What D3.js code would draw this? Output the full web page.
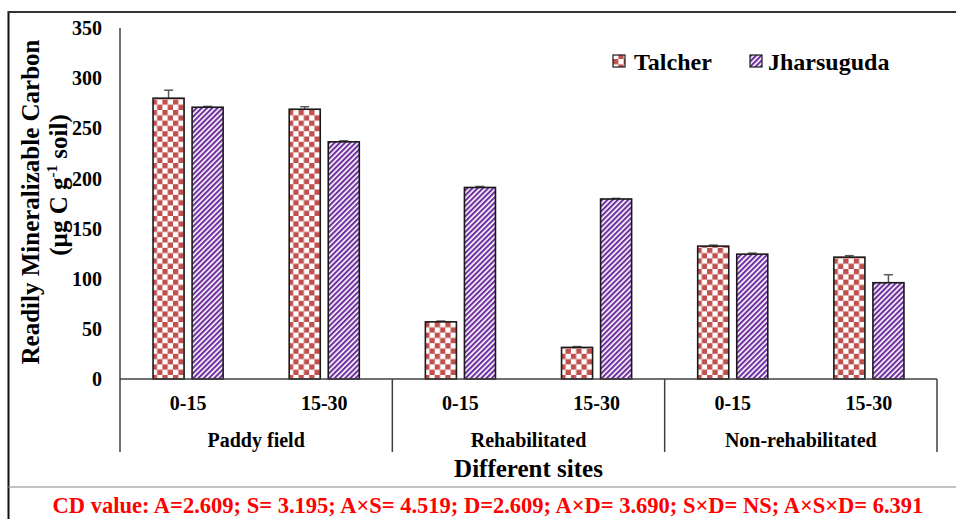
<!DOCTYPE html>
<html>
<head>
<meta charset="utf-8">
<script src="https://cdn.jsdelivr.net/npm/d3@7"></script>
<style>
  html, body { margin: 0; padding: 0; background: #fff; }
  svg { display: block; }
  text { font-family: "Liberation Serif", "Times New Roman", serif; font-weight: bold; }
</style>
</head>
<body>
<svg id="chart" width="956" height="519"></svg>
<script>
// Sites and soil depths
const sites = ["Paddy field", "Rehabilitated", "Non-rehabilitated"];
const depths = ["0-15", "15-30"];
const seriesNames = ["Talcher", "Jharsuguda"];

// Readily mineralizable carbon (µg C g-1 soil), one value per site/depth
const talcherValues    = [280, 269, 57, 31.5, 132.5, 121.5];
const jharsugudaValues = [271, 236.5, 191, 179.5, 124.5, 96];
const talcherErrors    = [8, 2.5, 0.8, 0.8, 1, 1.5];
const jharsugudaErrors = [0.8, 1, 1, 0.6, 1, 8];

const yTicks = [0, 50, 100, 150, 200, 250, 300, 350];
const cdText = "CD value: A=2.609; S= 3.195; A×S= 4.519; D=2.609; A×D= 3.690; S×D= NS; A×S×D= 6.391";

const svg = d3.select("#chart");

// Fill patterns
const defs = svg.append("defs");
const checker = defs.append("pattern")
  .attr("id", "checker").attr("patternUnits", "userSpaceOnUse")
  .attr("width", 10.6).attr("height", 10.6).attr("x", 0).attr("y", 4);
checker.append("rect").attr("width", 10.6).attr("height", 10.6).attr("fill", "#fff");
checker.append("rect").attr("x", 0).attr("y", 0).attr("width", 5.3).attr("height", 5.3).attr("fill", "#c0504d");
checker.append("rect").attr("x", 5.3).attr("y", 5.3).attr("width", 5.3).attr("height", 5.3).attr("fill", "#c0504d");

const stripes = defs.append("pattern")
  .attr("id", "stripes").attr("patternUnits", "userSpaceOnUse")
  .attr("width", 3.7).attr("height", 10)
  .attr("patternTransform", "rotate(45)");
stripes.append("rect").attr("width", 3.7).attr("height", 10).attr("fill", "#fff");
stripes.append("rect").attr("width", 2.1).attr("height", 10).attr("fill", "#7030a0");

const fills = { "Talcher": "url(#checker)", "Jharsuguda": "url(#stripes)" };

// Outer frame
svg.append("line").attr("x1", 8.5).attr("x2", 8.5).attr("y1", 11).attr("y2", 519)
  .attr("stroke", "#111").attr("stroke-width", 2);
svg.append("line").attr("x1", 8).attr("x2", 956).attr("y1", 12).attr("y2", 12)
  .attr("stroke", "#333").attr("stroke-width", 2);
svg.append("line").attr("x1", 8).attr("x2", 956).attr("y1", 487).attr("y2", 487)
  .attr("stroke", "#888").attr("stroke-width", 1.2);

// Scales
const plotLeft = 120, plotRight = 937, plotTop = 28, plotBase = 379;
const keys = [];
sites.forEach(s => depths.forEach(d => keys.push(s + "|" + d)));
const x = d3.scaleBand().domain(keys).range([plotLeft, plotRight]).padding(0);
const xSite = d3.scaleBand().domain(sites).range([plotLeft, plotRight]).padding(0);
const xInner = d3.scaleBand().domain(seriesNames).range([0, x.bandwidth()])
  .paddingInner(8 / 39).paddingOuter(0.846);
const y = d3.scaleLinear().domain([0, 350]).range([plotBase, plotTop]);

// Y axis (labels only, no tick marks)
const yAxis = d3.axisLeft(y).tickValues(yTicks).tickSize(0).tickPadding(0);
const gy = svg.append("g").attr("transform", `translate(102,0)`).call(yAxis);
gy.select(".domain").remove();
gy.selectAll("text").attr("font-size", 20).attr("fill", "#000")
  .attr("font-family", '"Liberation Serif", "Times New Roman", serif').attr("font-weight", "bold")
  .attr("dy", "0.33em");

svg.append("line").attr("x1", plotLeft).attr("x2", plotLeft).attr("y1", plotTop).attr("y2", 452)
  .attr("stroke", "#404040").attr("stroke-width", 1.5);

// Bars
const rows = keys.map((k, i) => ({
  key: k,
  bars: [
    { name: "Talcher", value: talcherValues[i], err: talcherErrors[i] },
    { name: "Jharsuguda", value: jharsugudaValues[i], err: jharsugudaErrors[i] }
  ]
}));

const groups = svg.append("g").selectAll("g").data(rows).join("g")
  .attr("transform", d => `translate(${x(d.key)},0)`);

// error bars drawn first so the bar outline sits on top
groups.selectAll("g.err").data(d => d.bars).join("g").attr("class", "err")
  .each(function(d) {
    const cx = xInner(d.name) + xInner.bandwidth() / 2;
    const g = d3.select(this);
    g.append("line").attr("x1", cx).attr("x2", cx).attr("y1", y(d.value)).attr("y2", y(d.value + d.err))
      .attr("stroke", "#595959").attr("stroke-width", 1.5);
    g.append("line").attr("x1", cx - 4.5).attr("x2", cx + 4.5).attr("y1", y(d.value + d.err)).attr("y2", y(d.value + d.err))
      .attr("stroke", "#595959").attr("stroke-width", 1.5);
  });

groups.selectAll("rect").data(d => d.bars).join("rect")
  .attr("x", d => xInner(d.name))
  .attr("width", xInner.bandwidth())
  .attr("y", d => y(d.value))
  .attr("height", d => y(0) - y(d.value))
  .attr("fill", d => fills[d.name])
  .attr("stroke", "#1a1a1a").attr("stroke-width", 1.6);

// X axis baseline and category box
svg.append("line").attr("x1", plotLeft).attr("x2", plotRight).attr("y1", plotBase).attr("y2", plotBase)
  .attr("stroke", "#404040").attr("stroke-width", 1.5);
sites.forEach(s => {
  const xe = xSite(s) + xSite.bandwidth();
  svg.append("line").attr("x1", xe).attr("x2", xe).attr("y1", plotBase).attr("y2", 452)
    .attr("stroke", "#404040").attr("stroke-width", 1.5);
});

svg.append("g").selectAll("text").data(keys).join("text")
  .attr("x", d => x(d) + x.bandwidth() / 2).attr("y", 410)
  .attr("text-anchor", "middle").attr("font-size", 20)
  .text(d => d.split("|")[1]);

svg.append("g").selectAll("text").data(sites).join("text")
  .attr("x", d => xSite(d) + xSite.bandwidth() / 2).attr("y", 447)
  .attr("text-anchor", "middle").attr("font-size", 20)
  .text(d => d);

svg.append("text").attr("x", (plotLeft + plotRight) / 2).attr("y", 477)
  .attr("text-anchor", "middle").attr("font-size", 25).text("Different sites");

// Y axis title
const yt = svg.append("text").attr("transform", "translate(39,202) rotate(-90)")
  .attr("text-anchor", "middle").attr("font-size", 25);
yt.text("Readily Mineralizable Carbon");
const yt2 = svg.append("text").attr("transform", "translate(67,185) rotate(-90)")
  .attr("text-anchor", "middle").attr("font-size", 25);
yt2.append("tspan").text("(µg C g");
yt2.append("tspan").attr("font-size", 15).attr("dy", "-0.7em").text("-1");
yt2.append("tspan").attr("dy", "0.42em").text(" soil)");

// Legend
const legendX = [613, 750];
const legendTextX = [21, 18];
seriesNames.forEach((n, i) => {
  const g = svg.append("g").attr("transform", `translate(${legendX[i]},55)`);
  g.append("rect").attr("width", 12).attr("height", 12).attr("fill", fills[n])
    .attr("stroke", "#1a1a1a").attr("stroke-width", 1.2);
  g.append("text").attr("x", legendTextX[i]).attr("y", 15).attr("font-size", 24).text(n);
});

// CD note
svg.append("text").attr("x", 488).attr("y", 513).attr("text-anchor", "middle")
  .attr("font-size", 22.5).attr("fill", "#ff0000").text(cdText);
</script>
</body>
</html>
